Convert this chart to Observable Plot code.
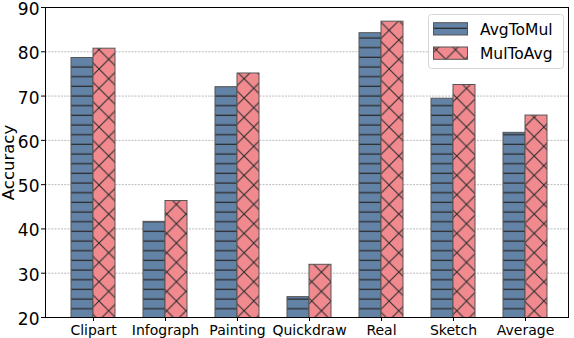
<!DOCTYPE html>
<html><head><meta charset="utf-8">
<script src="https://cdn.jsdelivr.net/npm/d3@7"></script>
<script src="https://cdn.jsdelivr.net/npm/@observablehq/plot@0.6"></script>
<style>
body{margin:0;background:#fff}
#chart{position:relative;width:574px;height:338px}
svg{overflow:visible}
</style>
</head><body><div id="chart"></div>
<script>
const categories = ["Clipart","Infograph","Painting","Quickdraw","Real","Sketch","Average"];
const seriesNames = ["AvgToMul","MulToAvg"];
const avgToMul = [78.6, 41.6, 72.0, 24.6, 84.2, 69.4, 61.7];
const mulToAvg = [80.7, 46.3, 75.1, 31.9, 86.8, 72.5, 65.6];
const yTicks = [20,30,40,50,60,70,80,90];
const seriesColors = ["#6282a6", "#f08a8f"];

const dataA = categories.map((c,i)=>({category:c, series:seriesNames[0], value:avgToMul[i]}));
const dataB = categories.map((c,i)=>({category:c, series:seriesNames[1], value:mulToAvg[i]}));

const hatchStroke = "#2e2e2e";
const edge = "#555";

const svg = Plot.plot({
  width: 574,
  height: 338,
  marginLeft: 45,
  marginRight: 6,
  marginTop: 7,
  marginBottom: 21,
  style: {fontFamily: "'DejaVu Sans', sans-serif", fontSize: "14px", color: "black", background: "white"},
  x: {type: "band", domain: categories, paddingInner: 0.6963, paddingOuter: 0.458, align: 0.532, label: null},
  y: {domain: [20, 90], label: null},
  marks: [
    Plot.gridY(yTicks, {stroke: "#a8a8a8", strokeOpacity: 1, strokeWidth: 0.8, strokeDasharray: "2,1.2"}),
    Plot.barY(dataA, {x: "category", y: "value", fill: "url(#hatch-h)", stroke: edge, strokeWidth: 1, dx: -11, clip: true}),
    Plot.barY(dataB, {x: "category", y: "value", fill: "url(#hatch-x)", stroke: edge, strokeWidth: 1, dx: 11, clip: true}),
    Plot.frame({stroke: "black", strokeWidth: 1}),
    Plot.axisY({ticks: yTicks, tickSize: 4, tickPadding: 2, fontSize: 17, label: null, text: null}),
    Plot.axisY({ticks: yTicks, tickSize: 0, tickPadding: 6, fontSize: 17, label: null, dy: 2}),
    Plot.axisY({ticks: [], tickSize: 0, fontSize: 16.5, label: "Accuracy", labelAnchor: "center", labelArrow: "none", labelOffset: 43}),
    Plot.axisX({tickSize: 4, tickPadding: 4, fontSize: 14, label: null})
  ]
});

const s = d3.select(svg);
const defs = s.insert("defs", ":first-child");
// horizontal-line hatch
const ph = defs.append("pattern").attr("id", "hatch-h").attr("patternUnits", "userSpaceOnUse")
  .attr("width", 10).attr("height", 9.67);
ph.append("rect").attr("width", 10).attr("height", 9.67).attr("fill", seriesColors[0]);
ph.append("line").attr("x1", 0).attr("x2", 10).attr("y1", 9.0).attr("y2", 9.0)
  .attr("stroke", hatchStroke).attr("stroke-width", 1.3);
// cross hatch
const T = 19.34;
const px = defs.append("pattern").attr("id", "hatch-x").attr("patternUnits", "userSpaceOnUse")
  .attr("width", T).attr("height", T).attr("patternTransform", "translate(1,1.3)");
px.append("rect").attr("width", T).attr("height", T).attr("fill", seriesColors[1]);
px.append("path").attr("d", `M-1,-1L${T+1},${T+1}M-1,${T+1}L${T+1},-1`)
  .attr("stroke", hatchStroke).attr("stroke-width", 1.1).attr("fill", "none");

// legend
const lg = s.append("g").attr("font-family", "'DejaVu Sans', sans-serif").attr("font-size", 15.5).attr("text-anchor", "start");
lg.append("rect").attr("x", 428.5).attr("y", 14.5).attr("width", 135).attr("height", 54)
  .attr("rx", 3).attr("fill", "white").attr("fill-opacity", 0.85).attr("stroke", "#d6d6d6");
seriesNames.forEach((name, i) => {
  const y0 = 22.7 + i * 24.3;
  lg.append("rect").attr("x", 433.5).attr("y", y0).attr("width", 34).attr("height", 12.3)
    .attr("fill", i === 0 ? "url(#hatch-h)" : "url(#hatch-x)").attr("stroke", edge);
  lg.append("text").attr("x", 480).attr("y", 34.5 + i * 24.2).attr("fill", "black").text(name);
});

document.getElementById("chart").appendChild(svg);
</script>
</body></html>
